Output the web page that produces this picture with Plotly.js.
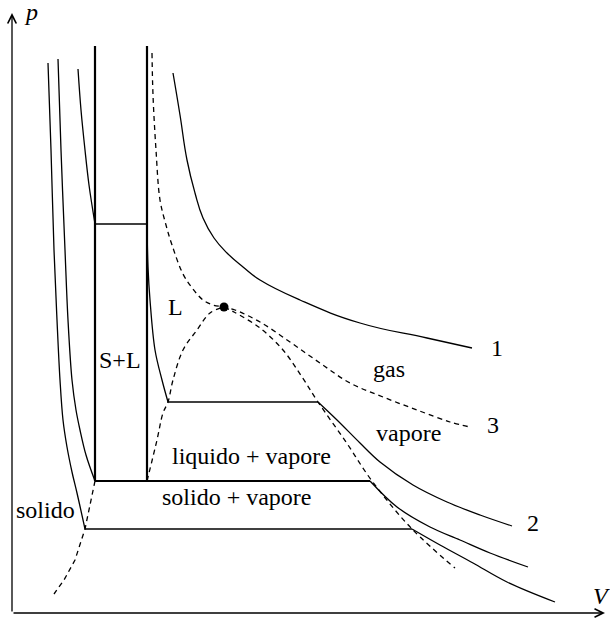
<!DOCTYPE html>
<html>
<head>
<meta charset="utf-8">
<script src="https://cdn.plot.ly/plotly-3.0.1.min.js"></script>
<style>html,body{margin:0;padding:0;background:#fff;}#chart{width:610px;height:619px;}</style>
</head>
<body>
<div id="chart"></div>
<script>
// ---- Data (V, p in diagram units) ----
// isotherm 1 (above critical)
const iso1V = [161,168,175,183,191,202,215,231,248,288,348,415,460];
const iso1P = [540,498,453,420,395,375,360,346,333,313,290,275,265];

// isotherm 2 (between triple and critical)
const iso2SolidV = [66,69,73,77,83];
const iso2SolidP = [544,503,463,428,389];
const iso2SLV = [83,135];
const iso2SLP = [389,389];
const iso2LiqV = [135,136,138,143,150,156];
const iso2LiqP = [389,346,313,263,233,211];
const iso2LVV = [156,306];
const iso2LVP = [211,211];
const iso2VapV = [306,325,348,368,401,435,468,500];
const iso2VapP = [211,193,170,151,128,111,98,87];

// triple point isotherm
const triSolidV = [46,49,53,56,60,64,68,74,83];
const triSolidP = [554,463,363,293,233,203,183,158,132];
const triLineV = [83,358];
const triLineP = [132,132];
const triVapV = [358,385,418,448,478,516];
const triVapP = [132,106,86,73,60,46];

// isotherm below triple point
const lowSolidV = [36,39,42,45,48,51,55,60,65,73];
const lowSolidP = [550,463,363,293,233,193,166,141,120,84];
const lowLineV = [73,400];
const lowLineP = [84,84];
const lowVapV = [400,428,461,495,543];
const lowVapP = [84,68,50,31,11];

// solid-liquid boundaries (S+L region)
const slLeftV = [83,83];
const slLeftP = [567,132];
const slRightV = [135,135];
const slRightP = [567,132];

// critical isotherm (3), dashed
const critV = [140,141,144,148,154,160,171,181,191,201,212,223,248,278,308,338,371,405,438,458];
const critP = [560,518,463,413,388,368,339,324,313,308,306,303,291,271,250,230,216,203,191,186];

// saturation curves, dashed
const liqSatV = [135,145,151,156,161,171,185,198,212];
const liqSatP = [132,173,200,211,233,263,283,300,306];
const vapSatV = [212,222,248,271,290,306,334,360,400,443];
const vapSatP = [306,301,285,263,236,211,171,132,84,45];
const solSatV = [83,78,73,63,52,42];
const solSatP = [132,108,84,53,33,19];

// critical point
const cpV = [212];
const cpP = [306];

// labels
const labelText = ['S+L','L','gas','vapore','liquido + vapore','solido + vapore','solido','1','2','3'];
const labelV    = [108, 163, 377, 396, 239, 225, 33, 477, 513, 473];
const labelP    = [253, 306, 244, 180, 157, 116, 103, 265, 90, 188];

// ---- Drawing ----
const thin = 1.3, thick = 2.2, dashPat = '5px,4px';
function curve(x, y, opts) {
  opts = opts || {};
  return {
    x: x, y: y, type: 'scatter', mode: 'lines', hoverinfo: 'skip',
    line: {color: '#000', width: opts.width || thin, dash: opts.dash ? dashPat : 'solid',
           shape: opts.linear ? 'linear' : 'spline', smoothing: opts.smooth || 1}
  };
}
const traces = [
  curve(iso1V, iso1P, {smooth: 1.3}),
  curve(iso2SolidV, iso2SolidP),
  curve(iso2SLV, iso2SLP, {linear: true}),
  curve(iso2LiqV, iso2LiqP),
  curve(iso2LVV, iso2LVP, {linear: true}),
  curve(iso2VapV, iso2VapP),
  curve(triSolidV, triSolidP),
  curve(triLineV, triLineP, {linear: true, width: 2}),
  curve(triVapV, triVapP),
  curve(lowSolidV, lowSolidP),
  curve(lowLineV, lowLineP, {linear: true}),
  curve(lowVapV, lowVapP),
  curve(slLeftV, slLeftP, {linear: true, width: thick}),
  curve(slRightV, slRightP, {linear: true, width: thick}),
  curve(critV, critP, {dash: true}),
  curve(liqSatV, liqSatP, {dash: true}),
  curve(vapSatV, vapSatP, {dash: true}),
  curve(solSatV, solSatP, {dash: true, linear: true}),
  {x: cpV, y: cpP, type: 'scatter', mode: 'markers', hoverinfo: 'skip',
   marker: {color: '#000', size: 9}}
];

const font = {family: 'Liberation Serif, Times New Roman, serif', size: 24, color: '#000'};
const annotations = labelText.map((t, i) => ({
  x: labelV[i], y: labelP[i], xref: 'x', yref: 'y', text: t, showarrow: false,
  font: font, xanchor: (t === '1' || t === '2' || t === '3') ? 'left' : 'center', yanchor: 'middle'
}));
// axes with arrows
annotations.push({x: 593, y: 0, ax: 0, ay: 0, xref: 'x', yref: 'y', axref: 'x', ayref: 'y',
  text: '', showarrow: true, arrowhead: 5, arrowsize: 1.3, arrowwidth: 1.3, arrowcolor: '#000'});
annotations.push({x: 0, y: 600, ax: 0, ay: 0, xref: 'x', yref: 'y', axref: 'x', ayref: 'y',
  text: '', showarrow: true, arrowhead: 5, arrowsize: 1.3, arrowwidth: 1.3, arrowcolor: '#000'});
annotations.push({x: 19, y: 601, xref: 'x', yref: 'y', text: '<i>p</i>', showarrow: false,
  font: font, xanchor: 'center', yanchor: 'middle'});
annotations.push({x: 589, y: 17, xref: 'x', yref: 'y', text: '<i>V</i>', showarrow: false,
  font: font, xanchor: 'center', yanchor: 'middle'});

const layout = {
  width: 610, height: 619,
  margin: {l: 0, r: 0, t: 0, b: 0, pad: 0},
  paper_bgcolor: '#fff', plot_bgcolor: '#fff',
  showlegend: false,
  xaxis: {range: [-12, 598], visible: false, fixedrange: true},
  yaxis: {range: [-6, 613], visible: false, fixedrange: true},
  annotations: annotations
};
Plotly.newPlot('chart', traces, layout, {staticPlot: true, displayModeBar: false});
</script>
</body>
</html>
